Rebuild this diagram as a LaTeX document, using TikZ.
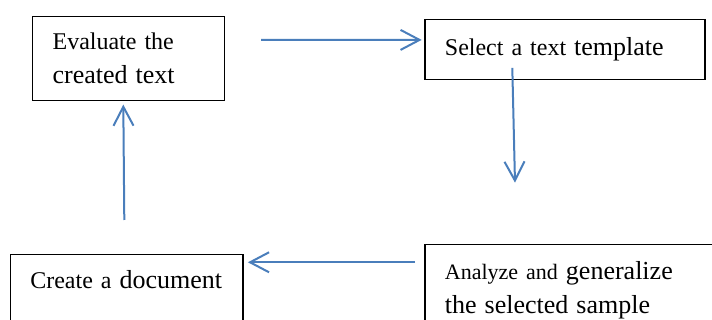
\documentclass[tikz,border=0pt]{standalone}
\usepackage{fontspec}
\setmainfont{Liberation Serif}
\usepackage{tikz}
\usetikzlibrary{arrows.meta,calc}
\definecolor{flowblue}{HTML}{4A7EBB}
\newcommand{\bigtxt}{\fontsize{13}{17}\selectfont}
\newcommand{\smalltxt}{\fontsize{11}{17}\selectfont}

\begin{document}
\begin{tikzpicture}[x=0.5pt,y=-0.5pt,
  stepbox/.style={draw=black,line width=0.6pt,anchor=north west,align=left,
    inner xsep=10pt,font=\fontsize{12}{17}\selectfont},
  flow/.style={draw=flowblue,line width=1pt,
    -{Straight Barb[length=9.5pt,width=10pt]}}]
\useasboundingbox (0,0) rectangle (712,320);
\clip (0,0) rectangle (712,320);
% the four steps
\node[stepbox,text width=76pt,minimum height=42.2pt] (eval) at (32,15.7)
  {Evaluate the\\{\bigtxt created text}};
\node[stepbox,text width=120pt,minimum height=30pt] (select) at (424.3,19)
  {Select a text {\bigtxt template}};
\node[stepbox,text width=96.3pt,inner ysep=4pt,text height=12.85pt,text depth=30pt] (create) at (9.7,254.3)
  {Create a {\bigtxt document}};
\node[stepbox,text width=150pt,minimum height=45.2pt] (analyze) at (424.3,244.3)
  {{\smalltxt Analyze and} {\bigtxt generalize}\\{\bigtxt the selected sample}};
% arrows
\draw[flow] ($(eval.east)+(36,-18.5)$) -- ($(select.west)+(-2.6,-9.7)$);
\draw[flow] ($(select.south)+(-52.6,-12.3)$) -- ($(analyze.north west)+(90.7,-61.6)$);
\draw[flow] ($(analyze.north west)+(-9.3,18)$) -- ($(create.north east)+(4.4,8)$);
\draw[flow] ($(create.north west)+(114.6,-34.3)$) -- ($(eval.south)+(-5.3,3.3)$);
\end{tikzpicture}
\end{document}
